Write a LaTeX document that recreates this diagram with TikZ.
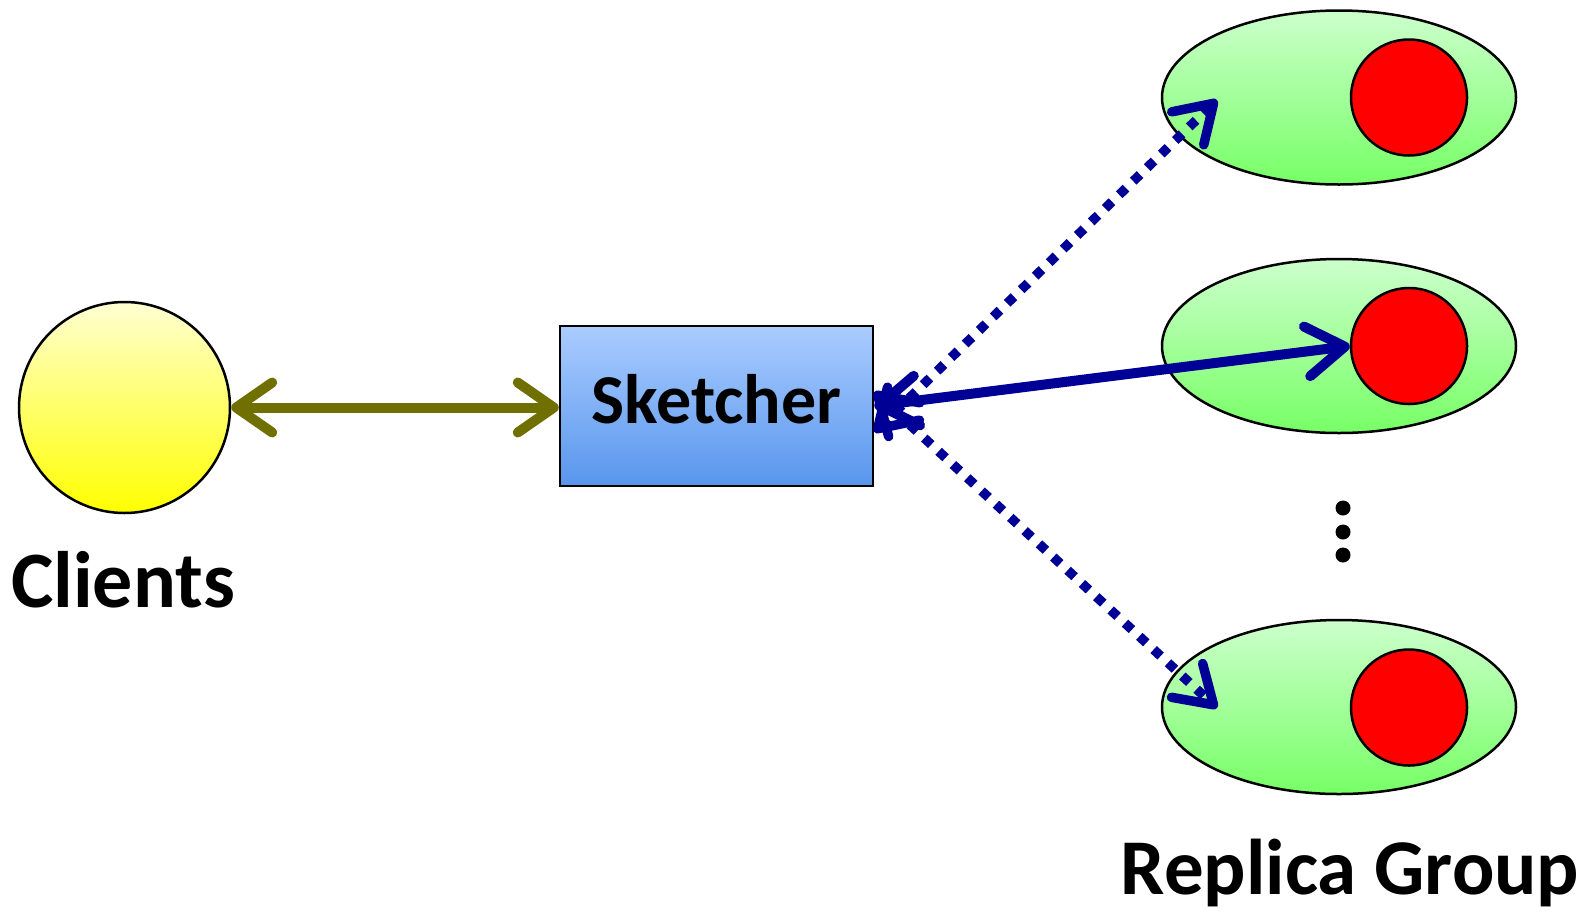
\documentclass[tikz,border=0pt]{standalone}
\usepackage{fontspec}
\setmainfont{Carlito}
\usetikzlibrary{arrows.meta,shapes.geometric}
\definecolor{olivearr}{HTML}{707000}
\definecolor{navyarr}{HTML}{000096}
\definecolor{boxtop}{HTML}{AACCFF}
\definecolor{boxbot}{HTML}{5896EC}
\definecolor{yeltop}{HTML}{FFFFD2}
\definecolor{yelbot}{HTML}{FFFF00}
\definecolor{grntop}{HTML}{CCFFCC}
\definecolor{grnbot}{HTML}{77FF66}
\tikzset{
  clientnode/.style={circle, draw=black, line width=2.5pt, minimum size=211pt, inner sep=0pt, top color=yeltop, bottom color=yelbot},
  sketchbox/.style={rectangle, draw=black, line width=2.5pt, minimum width=313pt, minimum height=160pt, inner sep=0pt, top color=boxtop, bottom color=boxbot},
  replica/.style={ellipse, draw=black, line width=2.5pt, minimum width=354pt, minimum height=174pt, inner sep=0pt, top color=grntop, bottom color=grnbot},
  redcore/.style={circle, draw=black, line width=2.5pt, minimum size=116pt, inner sep=0pt, fill=red},
  bigdot/.style={circle, fill=black, minimum size=15pt, inner sep=0pt},
  biglabel/.style={font=\fontsize{80}{96}\selectfont\bfseries, anchor=base, inner sep=0pt},
  clientlink/.style={draw=olivearr, line width=10pt, {Straight Barb[length=36pt, width=50pt, round]}-{Straight Barb[length=36pt, width=50pt, round]}},
  mainlink/.style={draw=navyarr, line width=10pt, {Straight Barb[length=38pt, width=50pt, round]}-{Straight Barb[length=38pt, width=50pt, round]}},
  sparelink/.style={draw=navyarr, line width=9.5pt, dash pattern=on 9.5pt off 10pt, {Straight Barb[length=36pt, width=46pt, round]}-{Straight Barb[length=36pt, width=46pt, round]}},
}
\begin{document}
\begin{tikzpicture}[x=1pt, y=-1pt]
\useasboundingbox (0,0) rectangle (1592,911);
% nodes
\node[clientnode] (cl) at (124.5,407.5) {};
\node[biglabel] (cltext) at (123,607) {Clients};
\node[sketchbox] (sk) at (716.5,406) {};
\node[font=\fontsize{70}{84}\selectfont\bfseries, anchor=base, inner sep=0pt] (sktext) at (716.5,423) {Sketcher};
\node[replica] (g1) at (1339,97.5) {};
\node[replica] (g2) at (1339,346) {};
\node[replica] (g3) at (1339,707) {};
\node[redcore] (r1) at (1409,97.5) {};
\node[redcore] (r2) at (1409,346) {};
\node[redcore] (r3) at (1409,707.5) {};
\node[bigdot] (d1) at (1343,508) {};
\node[bigdot] (d2) at (1343,532) {};
\node[bigdot] (d3) at (1343,555) {};
\node[biglabel, font=\fontsize{79}{94}\selectfont\bfseries] (rgtext) at (1350,894) {Replica Group};
% end points
\coordinate (skup) at ([yshift=-26pt]sk.east);
\coordinate (skdown) at ([yshift=14pt]sk.east);
\coordinate (t1) at (1217,100);
\coordinate (t3) at (1217,708);
% connectors
\draw[clientlink] (cl.east) -- (cl.east -| sk.west);
\draw[sparelink] (skup) -- (t1);
\draw[sparelink] (skdown) -- (t3);
\draw[mainlink] (sk.east) -- (r2.west);
\end{tikzpicture}
\end{document}
